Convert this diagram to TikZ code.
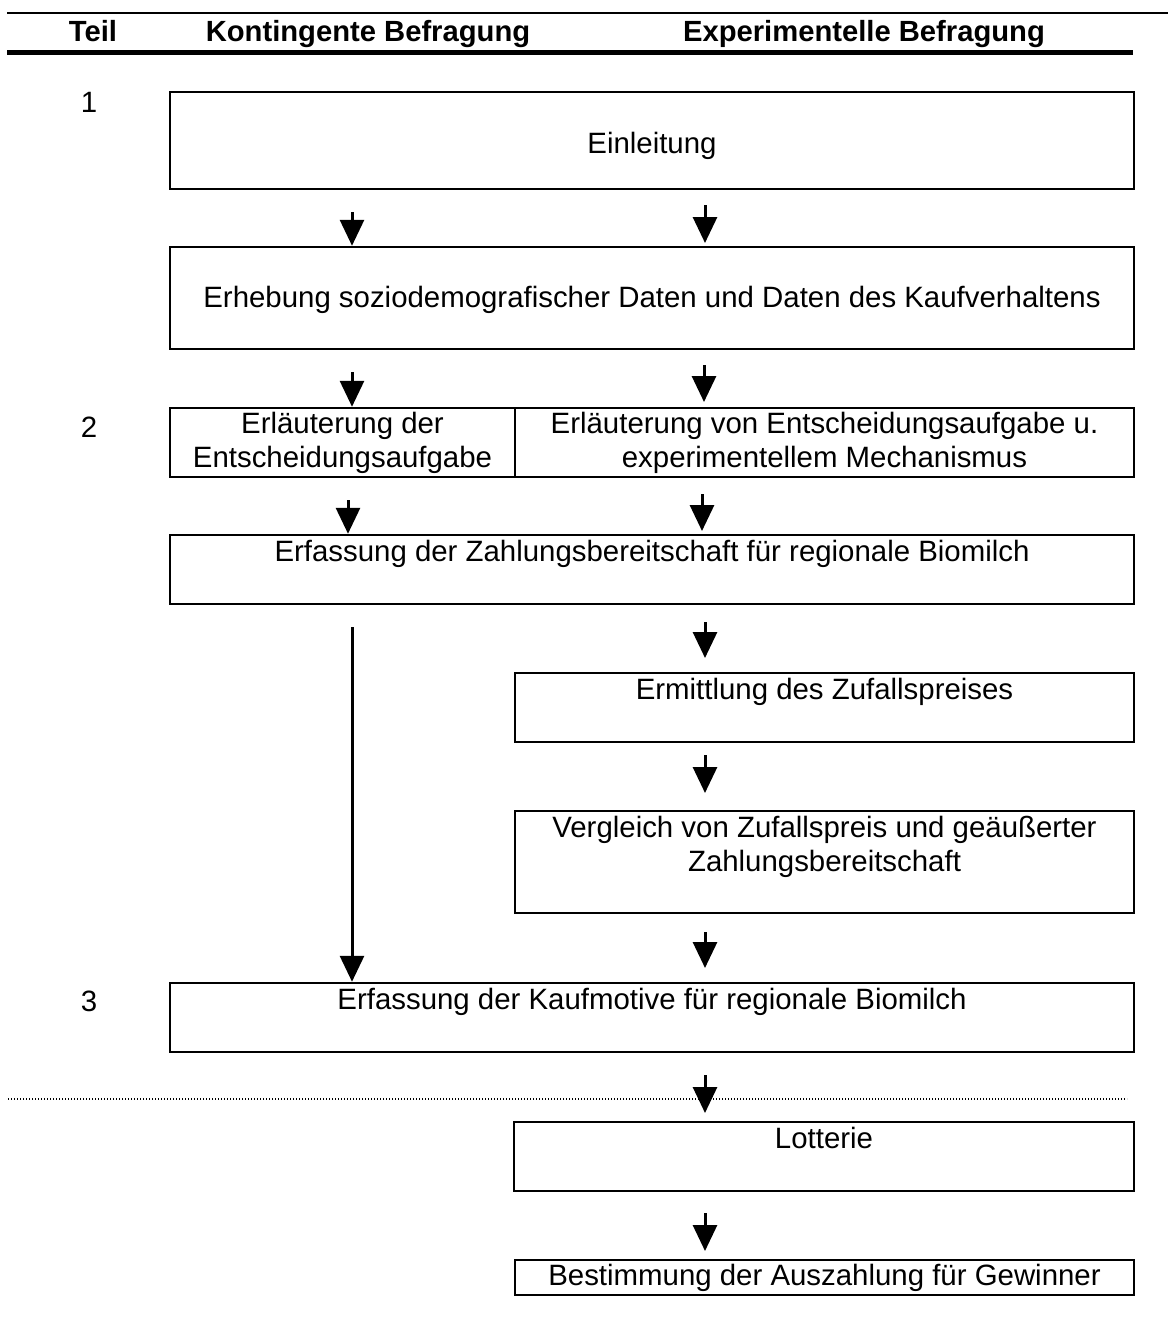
\documentclass[tikz,border=0pt]{standalone}
\usepackage{fontspec}
\setmainfont{Liberation Sans}
\usetikzlibrary{arrows.meta}
\begin{document}
\begin{tikzpicture}[x=1pt,y=-1pt,
  box/.style={draw, line width=2.5pt, inner sep=0pt, align=center, font=\fontsize{29.4}{32}\selectfont},
  txt/.style={inner sep=0pt, align=center, font=\fontsize{29.4}{34}\selectfont},
  headtxt/.style={inner sep=0pt, anchor=base, font=\bfseries\fontsize{29.2}{33}\selectfont},
  arr/.style={line width=3pt, -{Triangle[width=24pt,length=26pt]}}]
\useasboundingbox (0,0) rectangle (1168,1320);

% header rules
\draw[line width=2pt] (7,12.7) -- (1168,12.7);
\draw[line width=5pt] (7,52) -- (1133,52);
\node[headtxt] (hTeil) at (93,41) {Teil};
\node[headtxt] (hKont) at (368,41) {Kontingente Befragung};
\node[headtxt] (hExp) at (864,41) {Experimentelle Befragung};

% part numbers
\node[txt, anchor=base] (n1) at (89,112.5) {1};
\node[txt, anchor=base] (n2) at (89,437.5) {2};
\node[txt, anchor=base] (n3) at (89,1011.5) {3};

% boxes
\node[box, minimum width=964pt, minimum height=97pt] (b1) at (652,140.5) {};
\node[box, minimum width=964pt, minimum height=102pt] (b2) at (652,298) {};
\node[box, minimum width=345pt, minimum height=69pt] (b3l) at (342.5,442.5) {};
\node[box, minimum width=619pt, minimum height=69pt] (b3r) at (824.5,442.5) {};
\node[box, minimum width=964pt, minimum height=69pt] (b4) at (652,569.5) {};
\node[box, minimum width=619pt, minimum height=69pt] (b5) at (824.5,707.5) {};
\node[box, minimum width=619pt, minimum height=102pt] (b6) at (824.5,862) {};
\node[box, minimum width=964pt, minimum height=69pt] (b7) at (652,1017.5) {};
\node[box, minimum width=620pt, minimum height=69pt] (b8) at (824,1156.5) {};
\node[box, minimum width=619pt, minimum height=35pt] (b9) at (824.5,1277.5) {Bestimmung der Auszahlung für Gewinner};

% texts (anchor=base: baseline of the last line)
\node[txt, anchor=base] (t1) at ([yshift=-63pt]b1.north) {Einleitung};
\node[txt, anchor=base] (t2) at ([yshift=-62pt]b2.north) {Erhebung soziodemografischer Daten und Daten des Kaufverhaltens};
\node[txt, anchor=base] (t3l) at ([yshift=-61pt]b3l.north) {Erläuterung der\\Entscheidungsaufgabe};
\node[txt, anchor=base] (t3r) at ([yshift=-61pt]b3r.north) {Erläuterung von Entscheidungsaufgabe u.\\experimentellem Mechanismus};
\node[txt, anchor=base] (t4) at ([yshift=-28pt]b4.north) {Erfassung der Zahlungsbereitschaft für regionale Biomilch};
\node[txt, anchor=base] (t5) at ([yshift=-28pt]b5.north) {Ermittlung des Zufallspreises};
\node[txt, anchor=base] (t6) at ([yshift=-62pt]b6.north) {Vergleich von Zufallspreis und geäußerter\\Zahlungsbereitschaft};
\node[txt, anchor=base] (t7) at ([yshift=-28pt]b7.north) {Erfassung der Kaufmotive für regionale Biomilch};
\node[txt, anchor=base] (t8) at ([yshift=-28pt]b8.north) {Lotterie};

% dotted separator
\draw[line width=1.2pt, dash pattern=on 1.2pt off 1.8pt] (8,1099) -- (1127,1099);

% arrow start coordinates
\coordinate (s1l) at (352,212);
\coordinate (s1r) at (705,205);
\coordinate (s2l) at (352,372);
\coordinate (s2r) at (704,365);
\coordinate (s3l) at (348,500);
\coordinate (s3r) at (702,494);
\coordinate (sL)  at (352,627);
\coordinate (s4r) at (705,622);
\coordinate (s5r) at (705,755);
\coordinate (s6r) at (705,932);
\coordinate (s7r) at (705,1075);
\coordinate (s8r) at (705,1213);
% arrow end coordinates
\coordinate (e1r) at (705,243);
\coordinate (e2r) at (704,402);
\coordinate (e3r) at (702,531);
\coordinate (e4r) at (705,658);
\coordinate (e5r) at (705,793);
\coordinate (e6r) at (705,968);
\coordinate (e7r) at (705,1113);
\coordinate (e8r) at (705,1251);

\draw[arr] (s1l) -- (s1l |- b2.north);
\draw[arr] (s1r) -- (e1r);
\draw[arr] (s2l) -- (s2l |- b3l.north);
\draw[arr] (s2r) -- (e2r);
\draw[arr] (s3l) -- (s3l |- b4.north);
\draw[arr] (s3r) -- (e3r);
\draw[arr] (sL) -- (sL |- b7.north);
\draw[arr] (s4r) -- (e4r);
\draw[arr] (s5r) -- (e5r);
\draw[arr] (s6r) -- (e6r);
\draw[arr] (s7r) -- (e7r);
\draw[arr] (s8r) -- (e8r);
\end{tikzpicture}
\end{document}
